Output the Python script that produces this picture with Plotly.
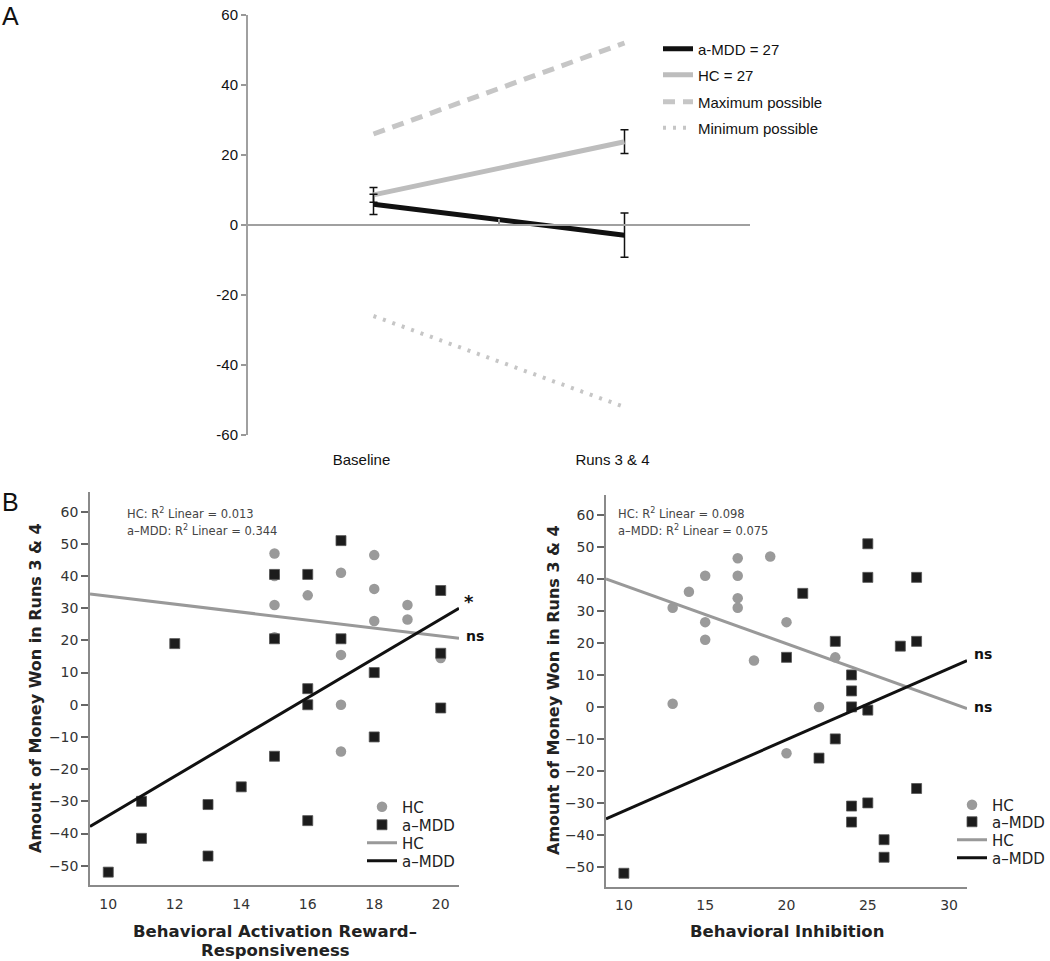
import plotly.graph_objects as go

W, H = 1050, 961

# ---------------- Panel A data ----------------
phases = ["Baseline", "Runs 3 & 4"]
hc_mean = [8.6, 23.8]
hc_err = [2.1, 3.4]
mdd_mean = [5.9, -2.9]
mdd_err = [2.9, 6.3]
max_possible = [26, 52]
min_possible = [-26, -52]
a_yticks = [-60, -40, -20, 0, 20, 40, 60]
a_yticklabels = ["-60", "-40", "-20", "0", "20", "40", "60"]

# ---------------- Panel B (left) data: BAS reward responsiveness ----------------
bas_hc_x = [15, 15, 15, 15, 16, 17, 17, 17, 17, 18, 18, 18, 19, 19, 20]
bas_hc_y = [47, 31, 21, 40, 34, 41, 15.5, 0, -14.5, 46.5, 36, 26, 31, 26.5, 14.5]
bas_mdd_x = [10, 11, 11, 12, 13, 13, 14, 15, 15, 15, 16, 16, 16, 16, 17, 17, 18, 18, 20, 20, 20]
bas_mdd_y = [-52, -30, -41.5, 19, -31, -47, -25.5, 40.5, 20.5, -16, 40.5, 5, 0, -36, 51, 20.5, 10, -10, 35.5, 16, -1]
bas_fit_x = [9.45, 20.55]
bas_fit_hc = [34.4, 20.7]
bas_fit_mdd = [-37.8, 30.0]

# ---------------- Panel B (right) data: BIS ----------------
bis_hc_x = [13, 13, 14, 15, 15, 15, 17, 17, 17, 17, 18, 19, 20, 20, 22, 23]
bis_hc_y = [31, 1, 36, 41, 26.5, 21, 46.5, 41, 34, 31, 14.5, 47, 26.5, -14.5, 0, 15.5]
bis_mdd_x = [10, 20, 21, 22, 23, 23, 24, 24, 24, 24, 24, 25, 25, 25, 25, 26, 26, 27, 28, 28, 28]
bis_mdd_y = [-52, 15.5, 35.5, -16, 20.5, -10, 10, 5, 0, -31, -36, 51, 40.5, -1, -30, -41.5, -47, 19, 40.5, 20.5, -25.5]
bis_fit_x = [8.9, 31.1]
bis_fit_hc = [40.0, -0.5]
bis_fit_mdd = [-35.0, 14.5]

b_yticks = [-50, -40, -30, -20, -10, 0, 10, 20, 30, 40, 50, 60]

GREY_PT = "#9a9a9a"
BLACK_PT = "#1c1c1c"
FONT_A = "Liberation Sans"
FONT_B = "DejaVu Sans"


def py(px):
    return 1 - px / H


def pxx(px):
    return px / W


fig = go.Figure()
legends = {}
_leg_count = [0]


def new_legend(item_x, row_y, font):
    """item_x: pixel x where the legend item (symbol area) starts; row_y: pixel y row center."""
    _leg_count[0] += 1
    name = "legend" if _leg_count[0] == 1 else f"legend{_leg_count[0]}"
    legends[name] = dict(x=pxx(item_x), y=py(row_y), xanchor="left", yanchor="middle",
                         font=font, bgcolor="rgba(0,0,0,0)", borderwidth=0)
    return name


fontA = dict(family=FONT_A, size=15, color="#111")
fontB = dict(family=FONT_B, size=15, color="#222")

# ---- Panel A traces ----
fig.add_trace(go.Scatter(x=phases, y=max_possible, mode="lines", name="Maximum possible",
                         line=dict(color="#c6c6c6", width=5, dash="12px,8px"),
                         legend=new_legend(658, 102, fontA), xaxis="x", yaxis="y"))
fig.add_trace(go.Scatter(x=phases, y=min_possible, mode="lines", name="Minimum possible",
                         line=dict(color="#c6c6c6", width=4, dash="3px,7px"),
                         legend=new_legend(658, 128, fontA), xaxis="x", yaxis="y"))
fig.add_trace(go.Scatter(x=phases, y=hc_mean, mode="lines", name="HC = 27",
                         line=dict(color="#bdbdbd", width=5),
                         error_y=dict(type="data", array=hc_err, color="#111", thickness=1.5, width=4),
                         legend=new_legend(658, 75, fontA), xaxis="x", yaxis="y"))
fig.add_trace(go.Scatter(x=phases, y=mdd_mean, mode="lines", name="a-MDD = 27",
                         line=dict(color="#111111", width=5),
                         error_y=dict(type="data", array=mdd_err, color="#111", thickness=1.5, width=4),
                         legend=new_legend(658, 49, fontA), xaxis="x", yaxis="y"))
# dummy trace so that the zero-line axis (x4) exists
fig.add_trace(go.Scatter(x=[None], y=[None], xaxis="x4", yaxis="y", showlegend=False, hoverinfo="skip"))


def add_b(xs_hc, ys_hc, xs_mdd, ys_mdd, fx, fhc, fmdd, xa, ya, item_x, rows):
    fig.add_trace(go.Scatter(x=xs_hc, y=ys_hc, mode="markers", name="HC",
                             marker=dict(symbol="circle", size=10.5, color=GREY_PT, line=dict(width=0)),
                             xaxis=xa, yaxis=ya, legend=new_legend(item_x, rows[0], fontB)))
    fig.add_trace(go.Scatter(x=xs_mdd, y=ys_mdd, mode="markers", name="a\u2013MDD",
                             marker=dict(symbol="square", size=10, color=BLACK_PT, line=dict(width=0.8, color="#555")),
                             xaxis=xa, yaxis=ya, legend=new_legend(item_x, rows[1], fontB)))
    fig.add_trace(go.Scatter(x=fx, y=fhc, mode="lines", name="HC",
                             line=dict(color="#999999", width=3),
                             xaxis=xa, yaxis=ya, legend=new_legend(item_x, rows[2], fontB)))
    fig.add_trace(go.Scatter(x=fx, y=fmdd, mode="lines", name="a\u2013MDD",
                             line=dict(color="#111111", width=3),
                             xaxis=xa, yaxis=ya, legend=new_legend(item_x, rows[3], fontB)))


add_b(bas_hc_x, bas_hc_y, bas_mdd_x, bas_mdd_y, bas_fit_x, bas_fit_hc, bas_fit_mdd, "x2", "y2",
      362, [807, 825, 843, 861])
add_b(bis_hc_x, bis_hc_y, bis_mdd_x, bis_mdd_y, bis_fit_x, bis_fit_hc, bis_fit_mdd, "x3", "y3",
      952, [805, 822, 840, 858])

b_tickfont = dict(family=FONT_B, size=14, color="#333")
b_axis_common = dict(showgrid=False, zeroline=False, showline=True, linecolor="#8a8a8a", linewidth=1.5)

fig.update_layout(
    width=W, height=H, margin=dict(l=0, r=0, t=0, b=0, autoexpand=False),
    paper_bgcolor="white", plot_bgcolor="white", showlegend=True,
    # Panel A
    xaxis=dict(domain=[pxx(248), pxx(750)], anchor="y", type="category", range=[-0.5, 1.5],
               showgrid=False, zeroline=False, showline=False, ticks="",
               tickfont=dict(family=FONT_A, size=15, color="#111"), ticklabelstandoff=14,
               ticklabelshift=-12),
    xaxis4=dict(overlaying="x", anchor="free", position=py(225), range=[-0.5, 1.5],
                tickvals=[0.5, 1.5], ticks="inside", ticklen=5, tickcolor="#999", tickwidth=1.5,
                showticklabels=False, showgrid=False, zeroline=False, showline=True,
                linecolor="#a0a0a0", linewidth=2),
    yaxis=dict(domain=[py(435), py(15)], anchor="x", range=[-60, 60],
               tickvals=a_yticks, ticktext=a_yticklabels, ticks="outside", ticklen=5,
               tickcolor="#999", tickwidth=1.5,
               showgrid=False, zeroline=False, showline=True, linecolor="#a0a0a0", linewidth=2,
               tickfont=dict(family=FONT_A, size=15, color="#111")),
    # Panel B left
    xaxis2=dict(domain=[pxx(90), pxx(459)], anchor="y2", range=[9.45, 20.55],
                tickvals=[10, 12, 14, 16, 18, 20], ticks="", tickfont=b_tickfont,
                ticklabelstandoff=5, **b_axis_common),
    yaxis2=dict(domain=[py(885), py(491.7)], anchor="x2", range=[-56, 66.2],
                tickvals=b_yticks, ticks="outside", ticklen=7, tickcolor="#666", tickwidth=1.5,
                tickfont=b_tickfont, **b_axis_common),
    # Panel B right
    xaxis3=dict(domain=[pxx(606), pxx(967)], anchor="y3", range=[8.9, 31.1],
                tickvals=[10, 15, 20, 25, 30], ticks="", tickfont=b_tickfont,
                ticklabelstandoff=5, **b_axis_common),
    yaxis3=dict(domain=[py(886.7), py(495)], anchor="x3", range=[-56.2, 66.25],
                tickvals=b_yticks, ticks="outside", ticklen=7, tickcolor="#666", tickwidth=1.5,
                tickfont=b_tickfont, **b_axis_common),
)
fig.update_layout(**legends)

ann = []


def add_ann(text, x, y, size, family=FONT_B, color="#111", xanchor="center", yanchor="middle", angle=0, bold=False):
    if bold:
        text = "<b>" + text + "</b>"
    ann.append(dict(text=text, x=pxx(x), y=py(y), xref="paper", yref="paper", showarrow=False,
                    xanchor=xanchor, yanchor=yanchor, textangle=angle,
                    font=dict(family=family, size=size, color=color)))


add_ann("A", 0, 16, 25, family=FONT_A, xanchor="left")
add_ann("B", 0, 502, 25, family=FONT_A, xanchor="left")

# Panel B left texts
add_ann("HC: R<sup>2</sup> Linear = 0.013", 125, 513, 11.5, color="#444", xanchor="left")
add_ann("a\u2013MDD: R<sup>2</sup> Linear = 0.344", 125, 530, 11.5, color="#444", xanchor="left")
add_ann("*", 469, 601, 18, bold=True)
add_ann("ns", 475, 636, 14, bold=True)
add_ann("Amount of Money Won in Runs 3 &amp; 4", 35, 688, 16, angle=-90, bold=True, color="#222")
add_ann("Behavioral Activation Reward\u2013", 275, 931, 16.5, bold=True, color="#222")
add_ann("Responsiveness", 275, 950, 16.5, bold=True, color="#222")

# Panel B right texts
add_ann("HC: R<sup>2</sup> Linear = 0.098", 616, 513, 11.5, color="#444", xanchor="left")
add_ann("a\u2013MDD: R<sup>2</sup> Linear = 0.075", 616, 530, 11.5, color="#444", xanchor="left")
add_ann("ns", 983, 654, 14, bold=True)
add_ann("ns", 983, 707, 14, bold=True)
add_ann("Amount of Money Won in Runs 3 &amp; 4", 553, 690, 16, angle=-90, bold=True, color="#222")
add_ann("Behavioral Inhibition", 787, 931, 16.5, bold=True, color="#222")

fig.update_layout(annotations=ann)

# remove the default page margin so the figure sits at the top-left corner of the window
fig.write_html("out.html", config={"displayModeBar": False},
               post_script="document.body.style.margin='0';document.body.style.overflow='hidden';")
